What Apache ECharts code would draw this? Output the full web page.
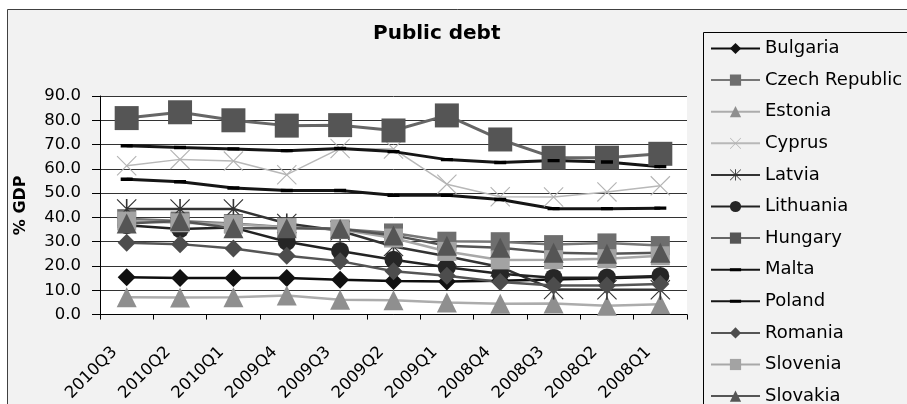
<!DOCTYPE html>
<html>
<head>
<meta charset="utf-8">
<title>Public debt</title>
<script src="https://cdn.jsdelivr.net/npm/echarts@6/dist/echarts.min.js"></script>
<style>
  html, body { margin: 0; padding: 0; background: #ffffff; }
  #chart { width: 907px; height: 404px; }
</style>
</head>
<body>
<div id="chart"></div>
<script>
// Quarterly public debt, % of GDP (newest quarter first)
const categories = ['2010Q3', '2010Q2', '2010Q1', '2009Q4', '2009Q3', '2009Q2',
                    '2009Q1', '2008Q4', '2008Q3', '2008Q2', '2008Q1'];

const bulgaria  = [15.4, 15.0, 15.0, 15.0, 14.3, 13.8, 13.6, 13.9, 14.4, 14.9, 15.6];
const czech     = [39.5, 38.5, 37.5, 36.0, 35.2, 33.6, 30.2, 30.0, 28.8, 29.5, 28.4];
const estonia   = [7.1, 7.0, 7.1, 7.8, 6.1, 5.9, 5.0, 4.4, 4.6, 3.6, 4.2];
const cyprus    = [61.3, 63.9, 63.2, 57.6, 68.4, 68.2, 53.7, 48.5, 48.4, 50.5, 53.0];
const latvia    = [43.5, 43.5, 43.5, 37.5, 34.5, 28.0, 24.0, 19.6, 10.3, 10.2, 10.2];
const lithuania = [36.8, 35.2, 35.8, 30.0, 26.2, 22.6, 19.5, 16.8, 15.2, 15.3, 15.9];
const hungary   = [80.9, 83.3, 80.0, 77.8, 78.0, 75.8, 82.0, 72.1, 64.6, 64.6, 66.2];
const malta     = [69.5, 68.8, 68.2, 67.5, 68.4, 67.1, 63.8, 62.6, 63.4, 62.8, 60.9];
const poland    = [55.7, 54.7, 52.1, 51.1, 51.1, 49.1, 49.1, 47.4, 43.6, 43.6, 43.8];
const romania   = [29.6, 29.0, 27.2, 24.2, 22.0, 17.8, 16.0, 13.4, 12.0, 12.0, 12.6];
const slovenia  = [38.5, 37.8, 37.2, 35.8, 35.0, 31.5, 26.0, 22.5, 22.6, 23.0, 24.2];
const slovakia  = [37.5, 38.5, 35.5, 35.5, 35.3, 32.6, 28.3, 27.5, 25.4, 25.0, 25.5];

const yTicks = { min: 0, max: 90, step: 10 };

// Marker shapes not built into ECharts
const CROSS = 'path://M0,4 L4,0 L100,96 L96,100 Z M96,0 L100,4 L4,100 L0,96 Z';
const STAR  = 'path://M0,4 L4,0 L100,96 L96,100 Z M96,0 L100,4 L4,100 L0,96 Z M46,0 L54,0 L54,100 L46,100 Z';
// short horizontal dash; tiny corner specks keep the box square so it is not stretched
const DASH  = 'path://M0,0 L0.1,0 L0,0.1 Z M0,36 L100,36 L100,64 L0,64 Z M100,100 L99.9,100 L100,99.9 Z';

const FONT = 'DejaVu Sans';

function lineSeries(name, data, color, markColor, symbol, size, width) {
  return {
    name: name,
    type: 'line',
    data: data,
    symbol: symbol,
    symbolSize: size,
    showAllSymbol: true,
    smooth: false,
    lineStyle: { color: color, width: width },
    itemStyle: { color: markColor, borderWidth: 0 },
    emphasis: { disabled: true },
    animation: false
  };
}

const series = [
  lineSeries('Bulgaria',       bulgaria,  '#0d0d0d', '#111111', 'diamond',  18, 2.5),
  lineSeries('Czech Republic', czech,     '#777777', '#6e6e6e', 'rect',     19, 2.5),
  lineSeries('Estonia',        estonia,   '#acacac', '#8f8f8f', 'triangle', 20, 2.5),
  lineSeries('Cyprus',         cyprus,    '#b8b8b8', '#b4b4b4', CROSS,      20, 1.5),
  lineSeries('Latvia',         latvia,    '#333333', '#333333', STAR,       20, 2.5),
  lineSeries('Lithuania',      lithuania, '#222222', '#262626', 'circle',   18, 2.5),
  lineSeries('Hungary',        hungary,   '#666666', '#555555', 'rect',     24, 3),
  lineSeries('Malta',          malta,     '#151515', '#000000', DASH,       12, 3),
  lineSeries('Poland',         poland,    '#151515', '#000000', DASH,       12, 3),
  lineSeries('Romania',        romania,   '#555555', '#4d4d4d', 'diamond',  18, 2.5),
  lineSeries('Slovenia',       slovenia,  '#a8a8a8', '#a3a3a3', 'rect',     19, 2.5),
  lineSeries('Slovakia',       slovakia,  '#555555', '#555555', 'triangle', 20, 2.5)
];

const chart = echarts.init(document.getElementById('chart'), null, { renderer: 'canvas' });

chart.setOption({
  animation: false,
  backgroundColor: '#ffffff',
  textStyle: { fontFamily: FONT },
  graphic: [
    { // chart area
      type: 'rect', z: -100, silent: true,
      shape: { x: 7.5, y: 9.5, width: 1000, height: 500 },
      style: { fill: '#f2f2f2', stroke: '#404040', lineWidth: 1 }
    },
    { // legend frame
      type: 'rect', z: -90, silent: true,
      shape: { x: 703.5, y: 32.5, width: 400, height: 500 },
      style: { fill: 'transparent', stroke: '#000000', lineWidth: 1 }
    }
  ],
  title: {
    text: 'Public debt',
    left: 368,
    top: 19,
    textStyle: { fontFamily: FONT, fontWeight: 'bold', fontSize: 20, color: '#000' }
  },
  legend: {
    orient: 'vertical',
    left: 705,
    top: 34.5,
    height: 380,
    itemWidth: 49,
    itemHeight: 14,
    itemGap: 13.6,
    itemStyle: { borderWidth: 0 },
    textStyle: { fontFamily: FONT, fontSize: 18, color: '#000' },
    data: series.map(s => s.name)
  },
  grid: {
    left: 100, right: 220, top: 96, bottom: 82,
    show: true, backgroundColor: '#ffffff', borderWidth: 0,
    containLabel: false
  },
  xAxis: {
    type: 'category',
    data: categories,
    boundaryGap: true,
    axisLine: { lineStyle: { color: '#000', width: 1 } },
    axisTick: { show: true, inside: false, length: 5, lineStyle: { color: '#000' } },
    axisLabel: {
      rotate: 45, interval: 0, margin: 23, padding: [0, 17, 0, 0],
      fontFamily: FONT, fontSize: 16.5, color: '#000'
    },
    splitLine: { show: false }
  },
  yAxis: {
    type: 'value',
    min: yTicks.min, max: yTicks.max, interval: yTicks.step,
    name: '% GDP',
    nameLocation: 'middle',
    nameGap: 71,
    nameTextStyle: { fontFamily: FONT, fontWeight: 'bold', fontSize: 16, color: '#000' },
    axisLine: { show: true, lineStyle: { color: '#000', width: 1 } },
    axisTick: { show: true, inside: false, length: 8, lineStyle: { color: '#000' } },
    axisLabel: {
      margin: 19, fontFamily: FONT, fontSize: 16.5, color: '#000',
      formatter: v => v.toFixed(1)
    },
    splitLine: { show: true, lineStyle: { color: '#333333', width: 1 } }
  },
  series: series
});
</script>
</body>
</html>
